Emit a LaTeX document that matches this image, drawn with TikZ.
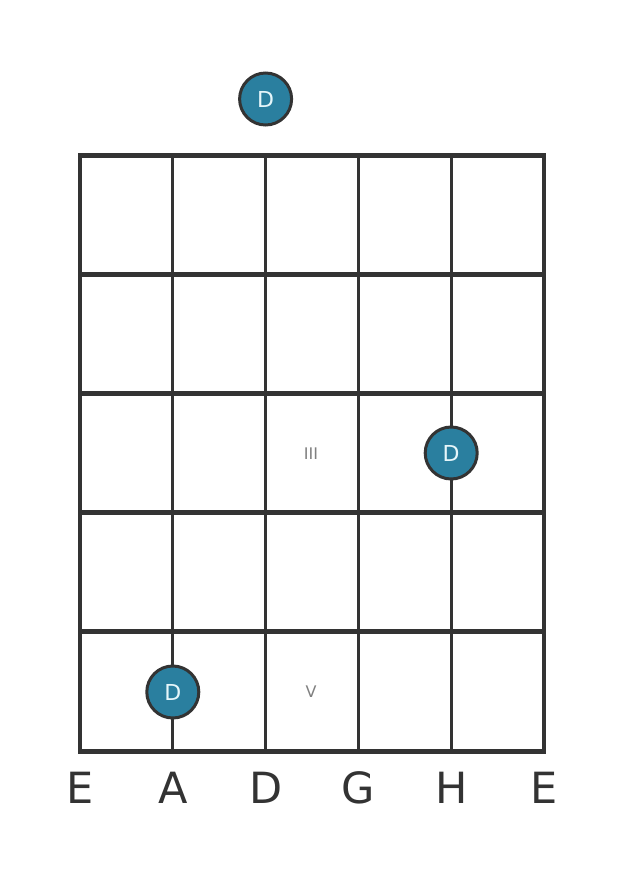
\documentclass[tikz,border=0pt]{standalone}
\usepackage{fontspec}
\setmainfont{DejaVu Sans}
\definecolor{linec}{HTML}{333333}
\definecolor{dotfill}{HTML}{2A7F9F}
\definecolor{dottext}{HTML}{E6F6FA}
\definecolor{romanc}{HTML}{808080}
\begin{document}
\begin{tikzpicture}[x=1pt,y=-1pt,
  stringline/.style={draw=linec,line width=3.2pt},
  fretline/.style={draw=linec,line width=5pt},
  notedot/.style={circle,draw=linec,line width=3pt,fill=dotfill,minimum size=52pt,inner sep=0pt,text=dottext,font=\fontsize{22}{22}\selectfont},
  stringlabel/.style={text=linec,font=\fontsize{43}{43}\selectfont,anchor=base},
  romanlabel/.style={text=romanc,font=\fontsize{16}{16}\selectfont}]
\useasboundingbox[fill=white] (0,0) rectangle (626,873);
% strings
\foreach \i/\x in {0/80,1/172.8,2/265.6,3/358.4,4/451.2,5/544} {
  \coordinate (st\i) at (\x,155);
  \coordinate (sb\i) at (\x,751);
  \draw[stringline] (st\i) -- (sb\i);
}
% frets
\foreach \j/\y in {0/155,1/274.2,2/393.4,3/512.6,4/631.8,5/751} {
  \coordinate (fl\j) at (78.4,\y);
  \coordinate (fr\j) at (545.6,\y);
  \draw[fretline] (fl\j) -- (fr\j);
}
% roman numerals
\node[romanlabel] (r3) at (311,454) {III};
\node[romanlabel] (r5) at (311,692) {V};
% dots
\node[notedot] (d0) at (265.6,99) {D};
\node[notedot] (d1) at (451.2,453) {D};
\node[notedot] (d2) at (172.8,692) {D};
% string names
\foreach \i/\x/\n in {0/80/E,1/172.8/A,2/265.6/D,3/358.4/G,4/451.2/H,5/544/E} {
  \node[stringlabel] (lab\i) at (\x,803) {\n};
}
\end{tikzpicture}
\end{document}
